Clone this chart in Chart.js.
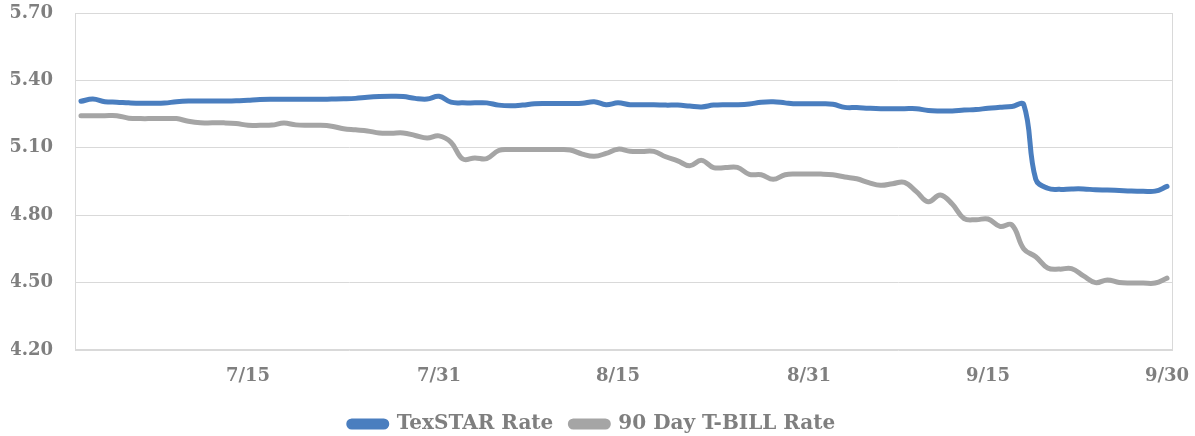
<!DOCTYPE html>
<html><head><meta charset="utf-8">
<script src="https://cdn.jsdelivr.net/npm/chart.js@4.4.1/dist/chart.umd.min.js"></script>
<style>html,body{margin:0;padding:0;background:#fff}#wrap{width:1195px;height:436px}</style>
</head><body><div id="wrap"><canvas id="c"></canvas></div>
<script>
// daily dates 7/1 - 9/30
const days = [
  "7/1","7/2","7/3","7/4","7/5","7/6","7/7","7/8","7/9","7/10","7/11","7/12","7/13","7/14","7/15","7/16",
  "7/17","7/18","7/19","7/20","7/21","7/22","7/23","7/24","7/25","7/26","7/27","7/28","7/29","7/30","7/31",
  "8/1","8/2","8/3","8/4","8/5","8/6","8/7","8/8","8/9","8/10","8/11","8/12","8/13","8/14","8/15","8/16",
  "8/17","8/18","8/19","8/20","8/21","8/22","8/23","8/24","8/25","8/26","8/27","8/28","8/29","8/30","8/31",
  "9/1","9/2","9/3","9/4","9/5","9/6","9/7","9/8","9/9","9/10","9/11","9/12","9/13","9/14","9/15","9/16",
  "9/17","9/18","9/19","9/20","9/21","9/22","9/23","9/24","9/25","9/26","9/27","9/28","9/29","9/30"
];
const shownDays = ["7/15","7/31","8/15","8/31","9/15","9/30"];

const texstar = [
  5.307,5.317,5.305,5.303,5.300,5.298,5.298,5.299,5.305,5.308,5.308,5.308,5.308,5.309,5.312,5.315,
  5.316,5.316,5.316,5.316,5.316,5.317,5.318,5.320,5.325,5.328,5.329,5.328,5.320,5.317,5.329,
  5.303,5.300,5.300,5.300,5.290,5.287,5.290,5.296,5.297,5.297,5.297,5.298,5.305,5.292,5.300,5.292,
  5.292,5.292,5.290,5.290,5.286,5.282,5.290,5.292,5.292,5.295,5.303,5.305,5.300,5.296,5.296,
  5.296,5.294,5.280,5.279,5.276,5.274,5.274,5.274,5.274,5.266,5.264,5.264,5.268,5.270,5.276,5.280,
  5.284,5.292,4.960,4.920,4.915,4.917,4.917,4.913,4.912,4.910,4.908,4.907,4.907,4.928
];
const tbill = [
  5.243,5.243,5.243,5.243,5.232,5.230,5.230,5.230,5.230,5.218,5.211,5.211,5.211,5.208,5.200,5.200,
  5.201,5.210,5.202,5.200,5.200,5.196,5.185,5.180,5.175,5.166,5.165,5.166,5.155,5.144,5.153,
  5.125,5.050,5.055,5.052,5.088,5.092,5.092,5.092,5.092,5.092,5.090,5.072,5.062,5.075,5.094,5.085,
  5.084,5.084,5.060,5.042,5.020,5.044,5.012,5.012,5.013,4.982,4.980,4.960,4.980,4.983,4.983,
  4.983,4.980,4.970,4.962,4.945,4.933,4.940,4.946,4.905,4.860,4.890,4.850,4.785,4.780,4.783,4.750,
  4.757,4.650,4.615,4.565,4.560,4.562,4.530,4.500,4.512,4.500,4.498,4.498,4.498,4.520
];
const yMin = 4.20, yMax = 5.70, yStep = 0.30;

const txt = "#7f7f7f", grid = "#d9d9d9";
const font = {family:"'DejaVu Serif', serif", size:18, weight:"bold"};
const legendFont = {family:"'DejaVu Serif', serif", size:20, weight:"bold"};

const frame = {id:"frame", beforeDatasetsDraw(ch){
  const a=ch.chartArea, c=ch.ctx; c.save(); c.strokeStyle=grid; c.lineWidth=1;
  c.strokeRect(Math.round(a.left)+0.5, Math.round(a.top)+0.5, Math.round(a.width)-1, Math.round(a.height)-1); c.restore();
}};
// legend height fixed so the item gap (padding) doesn't push the plot up
const legendGap = {id:"legendGap", beforeUpdate(ch){
  const lg=ch.legend; if(lg && !lg._patched){ const f=lg.fit; lg.fit=function(){ f.call(this); this.height=39; }; lg._patched=true; }
}};

new Chart(document.getElementById("c"), {
  type:"line",
  data:{ labels:days, datasets:[
    {label:"TexSTAR Rate", data:texstar, borderColor:"#4a7ebf", backgroundColor:"#4a7ebf", borderWidth:5, pointRadius:0, tension:0.4, borderCapStyle:"round", borderJoinStyle:"round", fill:false},
    {label:"90 Day T-BILL Rate", data:tbill, borderColor:"#a5a5a5", backgroundColor:"#a5a5a5", borderWidth:5, pointRadius:0, tension:0.4, borderCapStyle:"round", borderJoinStyle:"round", fill:false}
  ]},
  options:{
    responsive:true, maintainAspectRatio:false, animation:false,
    layout:{padding:{left:11, right:22, top:13, bottom:0}},
    plugins:{
      tooltip:{enabled:false},
      legend:{position:"bottom", labels:{color:txt, font:legendFont, boxWidth:38, boxHeight:6, useBorderRadius:true, borderRadius:3, padding:17}}
    },
    scales:{
      x:{offset:true, grid:{display:false, drawTicks:false}, border:{display:false},
         ticks:{autoSkip:false, maxRotation:0, color:txt, font, padding:16,
           callback(v,i){ const l=days[i]; return shownDays.includes(l)?l:""; }},
         afterFit(s){ s.height=47; s.paddingLeft=0; s.paddingRight=0; }},
      y:{min:yMin, max:yMax, grid:{color:grid, drawTicks:false}, border:{display:false},
         ticks:{stepSize:yStep, color:txt, font, padding:22, callback:v=>Number(v).toFixed(2)},
         afterFit(s){ s.width=64; s.paddingTop=0; s.paddingBottom=0; }}
    }
  },
  plugins:[frame, legendGap]
});
</script>
</body></html>
